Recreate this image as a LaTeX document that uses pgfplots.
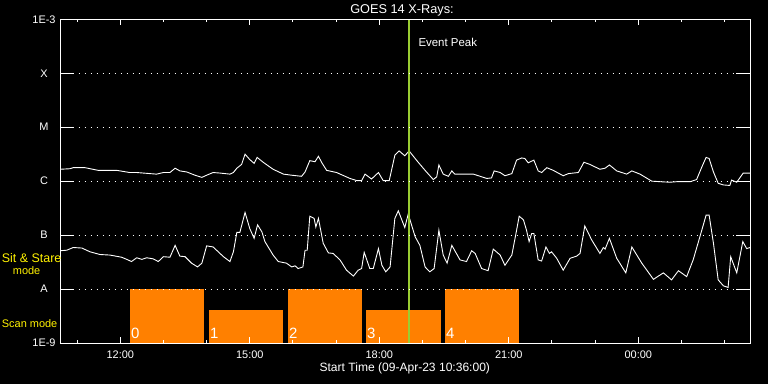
\documentclass[border=0pt]{standalone}
\usepackage{pgfplots}
\pgfplotsset{compat=1.18}
\usepackage{fontspec}
\setmainfont{Liberation Sans}
\definecolor{scanorange}{RGB}{255,128,0}
\definecolor{peakgreen}{RGB}{154,205,50}
\newcommand\lbl{\fontsize{11}{13}\selectfont}
\begin{document}
\begin{tikzpicture}
\fill[black] (0bp,0bp) rectangle (768bp,384bp);
\useasboundingbox (0bp,0bp) rectangle (768bp,384bp);
\begin{axis}[
  at={(60.5bp,41bp)}, anchor=south west,
  scale only axis, width=689.8bp, height=323.7bp,
  xmin=10.615, xmax=26.594, ymin=-9, ymax=-3,
  axis on top,
  axis line style={white, line width=1bp},
  xtick={12,15,18,21,24},
  xticklabels={12:00,15:00,18:00,21:00,00:00},
  minor xtick={11,13,14,16,17,19,20,22,23,25,26},
  ytick={-9,-8,-7,-6,-5,-4,-3},
  yticklabels={1E-9,A,B,C,M,X,1E-3},
  tick align=inside,
  xtick style={white, line width=1bp, /pgfplots/major tick length=6bp, /pgfplots/minor tick length=3bp},
  ytick style={white, line width=1bp, /pgfplots/major tick length=14bp},
  ymajorgrids,
  grid style={white, line width=1bp, dash pattern=on 1bp off 5bp},
  ticklabel style={white, font=\lbl},
  xticklabel style={inner sep=0pt, anchor=north, yshift=-8bp},
  yticklabel style={anchor=center, xshift=-16.5bp},
]
% scan mode blocks
\addplot[fill=scanorange, draw=none] coordinates {(12.225,-9) (12.225,-8) (13.94,-8) (13.94,-9)};
\addplot[fill=scanorange, draw=none] coordinates {(14.055,-9) (14.055,-8.389) (15.77,-8.389) (15.77,-9)};
\addplot[fill=scanorange, draw=none] coordinates {(15.885,-9) (15.885,-8) (17.59,-8) (17.59,-9)};
\addplot[fill=scanorange, draw=none] coordinates {(17.69,-9) (17.69,-8.389) (19.42,-8.389) (19.42,-9)};
\addplot[fill=scanorange, draw=none] coordinates {(19.52,-9) (19.52,-8) (21.235,-8) (21.235,-9)};
% long channel (1-8 A)
\addplot[white, line width=0.9bp] coordinates {
(10.60,-5.78) (10.83,-5.77) (10.91,-5.75) (11.18,-5.75) (11.49,-5.80) (11.92,-5.80)
(12.22,-5.84) (12.38,-5.84) (12.84,-5.87) (13.00,-5.84) (13.15,-5.84) (13.27,-5.76)
(13.38,-5.81) (13.54,-5.83) (13.73,-5.89) (13.89,-5.93) (14.00,-5.89) (14.15,-5.84)
(14.31,-5.85) (14.54,-5.87) (14.62,-5.84) (14.70,-5.76) (14.81,-5.69) (14.89,-5.50)
(15.00,-5.60) (15.10,-5.67) (15.17,-5.56) (15.31,-5.65) (15.54,-5.78) (15.78,-5.87)
(15.97,-5.89) (16.20,-5.91) (16.28,-5.83) (16.39,-5.62) (16.51,-5.64) (16.59,-5.54)
(16.67,-5.66) (16.78,-5.80) (17.01,-5.84) (17.32,-5.95) (17.48,-5.99) (17.59,-5.99)
(17.67,-5.87) (17.82,-5.96) (17.98,-5.84) (18.09,-5.99) (18.23,-5.99) (18.36,-5.52)
(18.46,-5.44) (18.59,-5.53) (18.69,-5.44) (18.87,-5.62) (19.06,-5.80) (19.25,-5.97)
(19.33,-5.92) (19.38,-5.70) (19.48,-5.87) (19.60,-5.91) (19.68,-5.81) (19.75,-5.87)
(20.10,-5.87) (20.18,-5.87) (20.49,-5.95) (20.60,-5.94) (20.66,-5.81) (20.80,-5.84)
(20.91,-5.90) (21.07,-5.86) (21.18,-5.61) (21.30,-5.57) (21.37,-5.58) (21.45,-5.66)
(21.58,-5.61) (21.68,-5.81) (21.76,-5.84) (21.88,-5.75) (22.03,-5.80) (22.26,-5.90)
(22.38,-5.86) (22.61,-5.84) (22.74,-5.65) (22.88,-5.69) (23.11,-5.78) (23.23,-5.76)
(23.33,-5.70) (23.50,-5.81) (23.73,-5.87) (23.85,-5.81) (24.04,-5.87) (24.31,-6.00)
(24.50,-6.01) (24.73,-6.02) (24.89,-6.01) (25.20,-6.01) (25.35,-5.97) (25.47,-5.74)
(25.57,-5.56) (25.64,-5.58) (25.74,-5.83) (25.85,-6.04) (25.97,-6.07) (26.12,-6.08)
(26.16,-5.98) (26.28,-6.02) (26.43,-5.85) (26.59,-5.85)
};
% short channel (0.5-4 A)
\addplot[white, line width=0.9bp] coordinates {
(10.60,-7.29) (10.76,-7.28) (10.91,-7.23) (11.11,-7.24) (11.30,-7.31) (11.53,-7.36)
(11.76,-7.37) (12.03,-7.41) (12.15,-7.45) (12.26,-7.49) (12.38,-7.42) (12.50,-7.45)
(12.61,-7.42) (12.76,-7.44) (12.88,-7.49) (13.00,-7.40) (13.15,-7.41) (13.27,-7.19)
(13.38,-7.39) (13.50,-7.40) (13.65,-7.52) (13.79,-7.59) (13.89,-7.52) (14.00,-7.20)
(14.15,-7.22) (14.39,-7.40) (14.54,-7.49) (14.62,-7.31) (14.70,-6.95) (14.77,-6.95)
(14.89,-6.58) (15.00,-6.88) (15.10,-7.06) (15.18,-6.81) (15.28,-6.94) (15.35,-7.12)
(15.54,-7.37) (15.66,-7.49) (15.85,-7.52) (15.97,-7.59) (16.05,-7.57) (16.12,-7.62)
(16.23,-7.59) (16.28,-7.28) (16.33,-7.28) (16.39,-6.65) (16.49,-6.69) (16.53,-6.85)
(16.59,-6.69) (16.70,-7.15) (16.82,-7.33) (16.93,-7.34) (17.09,-7.46) (17.24,-7.65)
(17.40,-7.76) (17.51,-7.65) (17.59,-7.62) (17.65,-7.32) (17.78,-7.62) (17.86,-7.62)
(17.98,-7.25) (18.06,-7.56) (18.15,-7.68) (18.25,-7.59) (18.36,-6.69) (18.44,-6.55)
(18.59,-6.86) (18.67,-6.61) (18.83,-7.03) (18.94,-7.19) (19.06,-7.59) (19.17,-7.68)
(19.27,-7.62) (19.38,-6.91) (19.48,-7.37) (19.57,-7.52) (19.68,-7.19) (19.87,-7.46)
(20.02,-7.49) (20.14,-7.29) (20.22,-7.34) (20.37,-7.62) (20.52,-7.66) (20.64,-7.26)
(20.80,-7.37) (20.91,-7.56) (21.07,-7.37) (21.18,-6.91) (21.24,-6.65) (21.30,-6.69)
(21.34,-6.72) (21.41,-6.91) (21.47,-7.12) (21.53,-6.97) (21.58,-6.97) (21.68,-7.46)
(21.76,-7.48) (21.86,-7.22) (21.94,-7.34) (21.99,-7.31) (22.11,-7.43) (22.26,-7.65)
(22.42,-7.43) (22.57,-7.39) (22.65,-7.34) (22.76,-6.83) (22.92,-7.09) (23.11,-7.34)
(23.19,-7.23) (23.23,-7.26) (23.33,-7.06) (23.50,-7.43) (23.71,-7.70) (23.85,-7.22)
(24.08,-7.52) (24.35,-7.82) (24.58,-7.70) (24.77,-7.83) (24.93,-7.66) (25.12,-7.77)
(25.27,-7.46) (25.47,-6.91) (25.57,-6.63) (25.64,-6.63) (25.74,-7.15) (25.85,-7.83)
(25.97,-7.94) (26.08,-7.97) (26.14,-7.40) (26.28,-7.70) (26.42,-7.12) (26.51,-7.25)
(26.59,-7.23)
};
% event peak
\addplot[peakgreen, line width=2.7bp] coordinates {(18.687,-9) (18.687,-3)};
% block numbers
\node[white, anchor=base west, inner sep=0pt, font=\fontsize{15}{15}\selectfont, xshift=1bp, yshift=4.7bp] at (axis cs:12.225,-9) {0};
\node[white, anchor=base west, inner sep=0pt, font=\fontsize{15}{15}\selectfont, xshift=1bp, yshift=4.7bp] at (axis cs:14.055,-9) {1};
\node[white, anchor=base west, inner sep=0pt, font=\fontsize{15}{15}\selectfont, xshift=1bp, yshift=4.7bp] at (axis cs:15.885,-9) {2};
\node[white, anchor=base west, inner sep=0pt, font=\fontsize{15}{15}\selectfont, xshift=1bp, yshift=4.7bp] at (axis cs:17.69,-9) {3};
\node[white, anchor=base west, inner sep=0pt, font=\fontsize{15}{15}\selectfont, xshift=1bp, yshift=4.7bp] at (axis cs:19.52,-9) {4};
\end{axis}
\node[white, anchor=base, inner sep=0pt, font=\fontsize{12.8}{14}\selectfont] at (402bp,370.7bp) {GOES 14 X-Rays:};
\node[white, anchor=base, inner sep=0pt, font=\fontsize{12.1}{14}\selectfont] at (404.8bp,12.3bp) {Start Time (09-Apr-23 10:36:00)};
\node[white, anchor=base west, inner sep=0pt, font=\fontsize{11.5}{13}\selectfont] at (418.3bp,337.3bp) {Event Peak};
\node[yellow, anchor=base west, inner sep=0pt, font=\fontsize{12.5}{14}\selectfont] at (1.7bp,121.3bp) {Sit \& Stare};
\node[yellow, anchor=base west, inner sep=0pt, font=\lbl] at (12.7bp,109bp) {mode};
\node[yellow, anchor=base west, inner sep=0pt, font=\lbl] at (1.7bp,56.3bp) {Scan mode};
\end{tikzpicture}
\end{document}
